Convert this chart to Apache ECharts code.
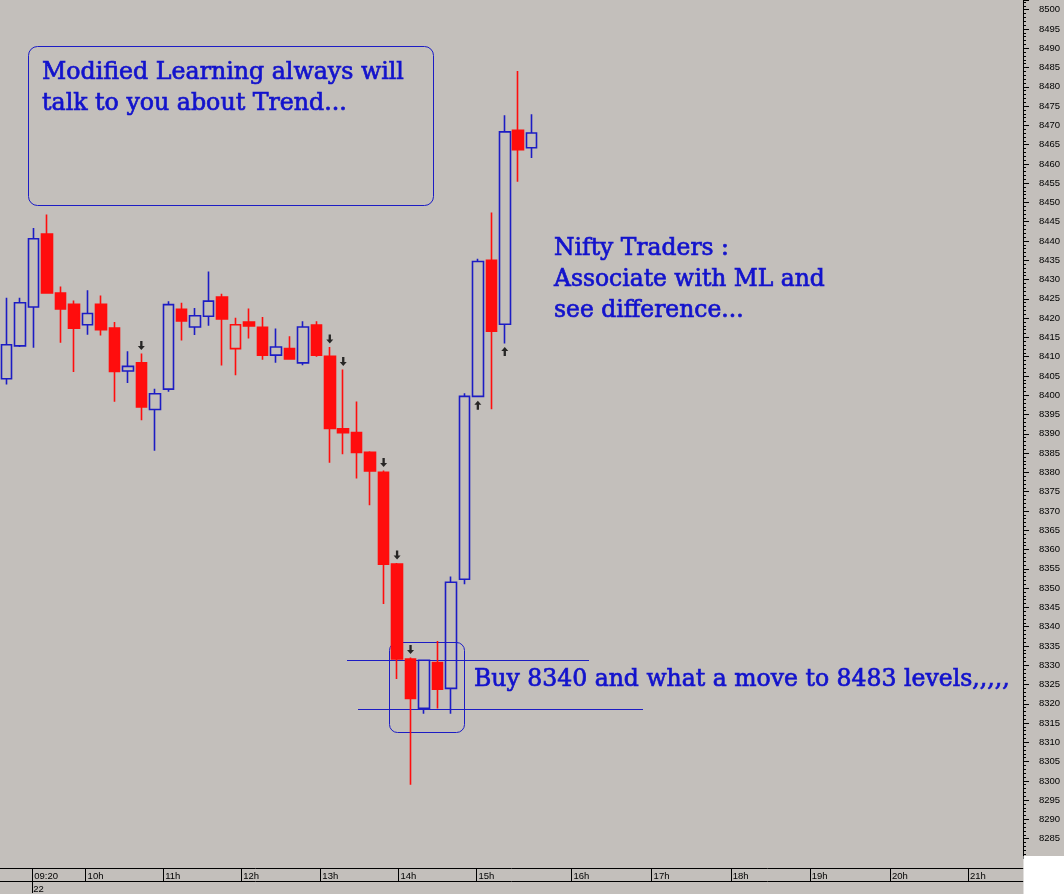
<!DOCTYPE html>
<html><head><meta charset="utf-8">
<script src="https://cdn.jsdelivr.net/npm/echarts@6/dist/echarts.min.js"></script>
<style>html,body{margin:0;padding:0;background:#fff}#c{width:1064px;height:894px}</style>
</head><body><div id="c"></div>
<script>
// ---- data (Nifty 10-min candles) ----
const slotCount = 76;
const slots = Array.from({length: slotCount}, (_, i) => String(i));
const opens  = [8404.3,8412.8,8422.9,8441.8,8426.5,8423.6,8418.3,8423.6,8417.4,8406.3,8408.4,8396.3,8401.6,8422.3,8417.7,8420.5,8425.5,8412.1,8419.0,8417.6,8410.4,8412.1,8408.4,8418.2,8410.1,8391.3,8390.3,8385.2,8380.0,8356.2,8331.6,8318.8,8330.7,8324.0,8352.3,8399.7,8435.0,8418.4,8468.7,8464.2];
const closes = [8413.1,8424.0,8440.6,8426.5,8422.4,8417.4,8421.2,8417.0,8406.2,8407.5,8397.0,8400.4,8423.5,8419.3,8420.6,8424.4,8419.8,8418.3,8418.0,8410.4,8412.5,8409.4,8417.7,8410.4,8391.4,8390.3,8385.2,8380.4,8356.2,8331.6,8321.4,8331.3,8323.8,8351.5,8399.7,8434.7,8416.6,8468.3,8463.7,8468.0];
const lows   = [8402.8,8412.5,8412.3,8426.3,8413.6,8406.0,8415.7,8415.5,8398.3,8403.2,8393.5,8385.6,8400.9,8414.2,8415.6,8418.0,8407.7,8405.2,8414.7,8409.2,8408.4,8409.2,8407.8,8410.0,8382.5,8384.7,8378.4,8371.5,8345.9,8326.4,8299.0,8317.4,8318.8,8317.4,8351.0,8399.5,8396.4,8413.4,8455.4,8461.5];
const highs  = [8425.3,8425.3,8443.4,8446.9,8428.2,8424.6,8427.2,8425.9,8419.0,8411.4,8410.8,8401.7,8424.4,8424.0,8422.6,8432.1,8426.3,8420.1,8422.5,8420.3,8417.3,8415.3,8419.2,8419.2,8412.5,8406.7,8398.4,8385.5,8380.5,8356.5,8332.0,8331.5,8336.3,8353.0,8400.5,8435.4,8447.4,8472.6,8484.1,8472.9];
const hollowRed = [17];
const downArrows = [10,24,25,28,29,30];
const upArrows = [35,37];
const yMin = 8280, yMax = 8502.5, yStep = 5;
const hourTickPos = [1.9,5.86,11.62,17.42,23.3,29.1,34.9,41.96,47.91,53.79,59.66,65.61,71.41];
const hourTickLabels = ['09:20','10h','11h','12h','13h','14h','15h','16h','17h','18h','19h','20h','21h'];
const dayTickPos = [1.9];
const dayTickLabels = ['22'];
const note1 = ['Modified Learning always will','talk to you about Trend...'];
const note2 = ['Nifty Traders :','Associate with ML and','see difference...'];
const note3 = 'Buy 8340 and what a move to 8483 levels,,,,,';

// ---- styles ----
const BG = '#c3bfbb', BLUE = '#1c1cc4', RED = '#ff0d0d', TXT = '#1212cc';
const SERIF = '"DejaVu Serif"';

function fitSize(text, target) {
  const cv = document.createElement('canvas').getContext('2d');
  cv.font = '100px ' + SERIF;
  return 100 * target / cv.measureText(text).width;
}
const fs1 = fitSize(note1[0], 362);
const fs2 = fitSize(note2[1], 271);
const fs3 = fitSize(note3, 536);

const candleData = opens.map((o, i) => {
  const item = {value: [o, closes[i], lows[i], highs[i]]};
  if (hollowRed.includes(i)) item.itemStyle = {color: 'transparent', borderColor: RED};
  return item;
});

function lookup(pos, labels, v) {
  for (let j = 0; j < pos.length; j++) if (Math.abs(pos[j] - v) < 1e-6) return labels[j];
  return '';
}

const chart = echarts.init(document.getElementById('c'), null, {renderer: 'canvas'});
const textEls = [];
function txt(t, x, y, fs) {
  return {type:'text', x:x, y:y, z:20, style:{text:t, font: fs.toFixed(2)+'px '+SERIF, fill:TXT, stroke:TXT, lineWidth:0.7, verticalAlign:'middle'}};
}
note1.forEach((t, k) => textEls.push(txt(t, 42, 73 + k*31, fs1)));
note2.forEach((t, k) => textEls.push(txt(t, 554, 249 + k*31, fs2)));
textEls.push(txt(note3, 474, 680, fs3));

chart.setOption({
  animation: false,
  backgroundColor: BG,
  grid: {left: 0, right: 41, top: 0, height: 859},
  xAxis: [
    {type:'category', data: slots, boundaryGap: true, show: false},
    {type:'value', min:-0.5, max: slotCount-0.5, position:'bottom', offset:10,
     axisLine:{show:true, onZero:false, lineStyle:{color:'#000', width:1}},
     axisTick:{show:true, customValues: hourTickPos, length:13, lineStyle:{color:'#000'}},
     axisLabel:{show:true, customValues: hourTickPos, formatter: v => lookup(hourTickPos, hourTickLabels, v),
       align:'left', margin:3, padding:[0,0,0,2], fontSize:9.5, fontFamily:'"Liberation Sans"', color:'#000'},
     splitLine:{show:false}},
    {type:'value', min:-0.5, max: slotCount-0.5, position:'bottom', offset:23,
     axisLine:{show:true, onZero:false, lineStyle:{color:'#000', width:1}},
     axisTick:{show:true, customValues: dayTickPos, length:12, lineStyle:{color:'#000'}},
     axisLabel:{show:true, customValues: dayTickPos, formatter: v => lookup(dayTickPos, dayTickLabels, v),
       align:'left', margin:3, padding:[0,0,0,1], fontSize:9.5, fontFamily:'"Liberation Sans"', color:'#000'},
     splitLine:{show:false}}
  ],
  yAxis: {type:'value', position:'right', min:yMin, max:yMax, interval:yStep,
    axisLine:{show:true, onZero:false, lineStyle:{color:'#000', width:1}},
    axisTick:{show:true, length:6, lineStyle:{color:'#000'}},
    minorTick:{show:true, splitNumber:5, length:3, lineStyle:{color:'#000'}},
    axisLabel:{margin:16, fontSize:9.5, fontFamily:'"Liberation Sans"', color:'#000', showMinLabel:false, showMaxLabel:false,
      formatter: v => String(Math.round(v))},
    splitLine:{show:false}},
  series: [
    {type:'candlestick', xAxisIndex:0, data: candleData, barWidth: 11,
     itemStyle:{color:'transparent', color0:RED, borderColor:BLUE, borderColor0:RED, borderWidth:1.6}},
    {type:'scatter', xAxisIndex:0, z:5, data: downArrows.map(i => [i, highs[i]]),
     symbol:'path://M2,0 L4,0 L4,5 L6,5 L3,9 L0,5 L2,5 Z', symbolSize:[7,9], symbolOffset:[0,-8],
     itemStyle:{color:'#000'}},
    {type:'scatter', xAxisIndex:0, z:5, data: upArrows.map(i => [i, lows[i]]),
     symbol:'path://M3,0 L6,4 L4,4 L4,9 L2,9 L2,4 L0,4 Z', symbolSize:[7,9], symbolOffset:[0,8],
     itemStyle:{color:'#000'}}
  ],
  graphic: [
    {type:'rect', shape:{x:1023.5, y:856, width:41, height:38}, style:{fill:'#fff'}, z:10},
    {type:'rect', shape:{x:28.5, y:46.5, width:405, height:159, r:9}, style:{fill:'none', stroke:BLUE, lineWidth:1}},
    {type:'line', shape:{x1:347, y1:660.5, x2:589, y2:660.5}, style:{stroke:BLUE, lineWidth:1}},
    {type:'line', shape:{x1:358, y1:709.5, x2:643, y2:709.5}, style:{stroke:BLUE, lineWidth:1}},
    {type:'rect', shape:{x:389.5, y:642.5, width:75, height:90, r:8}, style:{fill:'none', stroke:BLUE, lineWidth:1}}
  ].concat(textEls)
});
</script></body></html>
